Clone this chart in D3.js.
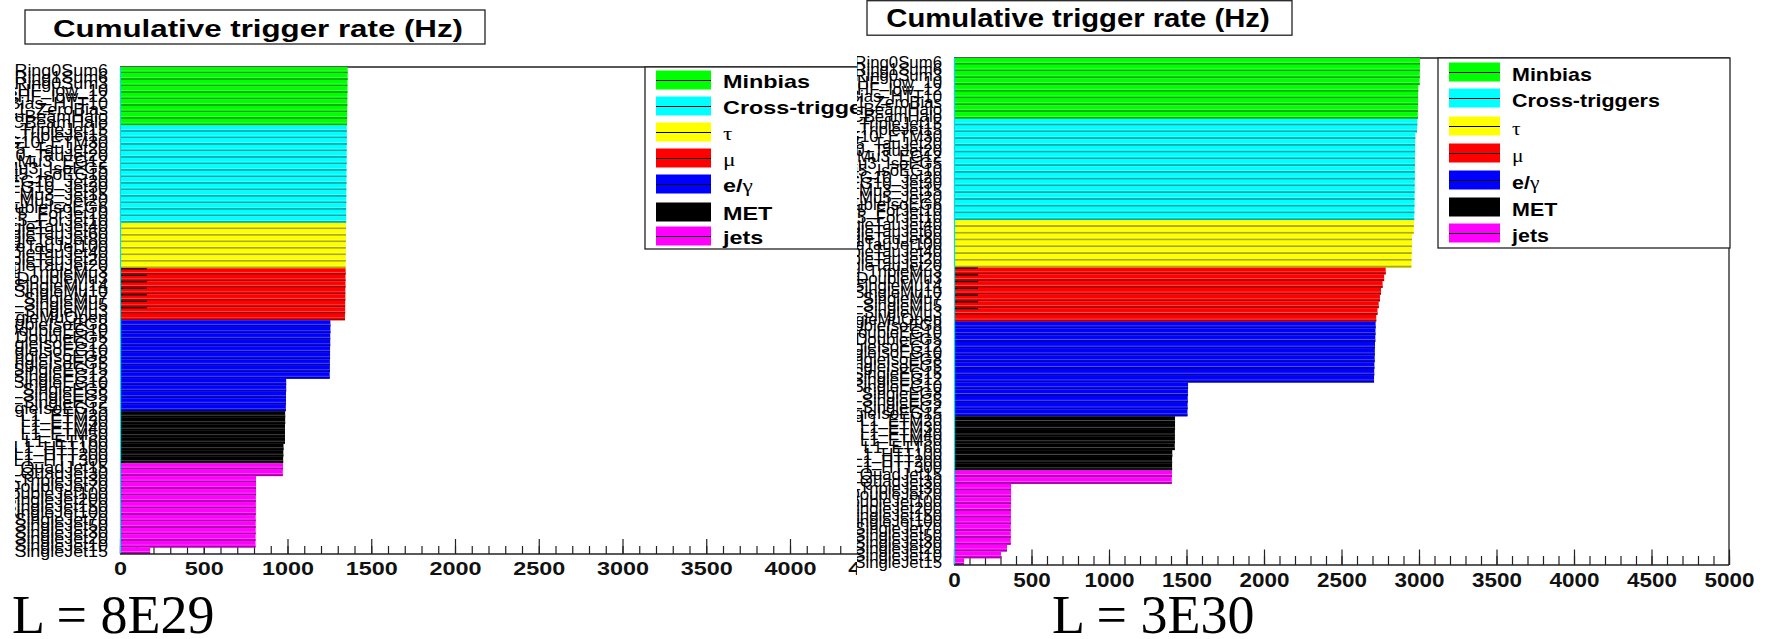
<!DOCTYPE html>
<html>
<head>
<meta charset="utf-8">
<script src="https://cdn.jsdelivr.net/npm/d3@7"></script>
<style>
  body { margin: 0; background: #fff; }
  svg { display: block; }
</style>
</head>
<body>
<svg id="chart" width="1774" height="639"></svg>
<script>
// trigger groups, listed top to bottom as they are stacked in the plot
var groupNames = ["Minbias", "Cross-triggers", "τ", "μ", "e/γ", "MET", "jets"];

var minbiasTriggers = ["L1_MinBias_Ring0Sum6", "L1_MinBias_Ring1Sum6", "L1_MinBias_Ring0Sum3", "L1_MinBiasHF_low_10",
  "L1_MinBiasHF_low_12", "L1_MinBias_HTT10", "L1_ZeroBias", "L1_SingleMuBeamHalo", "L1_CSCBeamHalo"];
var crossTriggers = ["L1_EG5_TripleJet15", "L1_Mu3_TripleJet15", "L1_IsoEG10_ETM30", "L1_Mu5_TauJet20", "L1_IsoEG10_TauJet20",
  "L1_Mu3_EG12", "L1_Mu3_IsoEG5", "L1_Mu5_IsoEG10", "L1_IsoEG10_Jet20", "L1_IsoEG10_Jet30", "L1_Mu3_Jet15",
  "L1_Mu5_Jet20", "L1_ExclusiveDoubleIsoEG6", "L1_IsoEG10_Jet15_ForJet10", "L1_Mu3_Jet15_ForJet10"];
var tauTriggers = ["L1_SingleTauJet40", "L1_SingleTauJet60", "L1_SingleTauJet80", "L1_SingleTauJet100",
  "L1_DoubleTauJet40", "L1_DoubleTauJet20", "L1_SingleTauJet20"];
var muTriggers = ["L1_TripleMu3", "L1_DoubleMu3", "L1_SingleMu14", "L1_SingleMu10", "L1_SingleMu7",
  "L1_SingleMu5", "L1_SingleMu3", "L1_SingleMuOpen"];
var egTriggers = ["L1_DoubleIsoEG8", "L1_DoubleEG10", "L1_DoubleEG5", "L1_SingleIsoEG12", "L1_SingleIsoEG10",
  "L1_SingleIsoEG8", "L1_SingleIsoEG5", "L1_SingleEG15", "L1_SingleEG12", "L1_SingleEG10", "L1_SingleEG8",
  "L1_SingleEG5", "L1_SingleEG2", "L1_SingleIsoEG15"];
var metTriggers = ["L1_ETM20", "L1_ETM30", "L1_ETM40", "L1_ETM50", "L1_ETT60", "L1_HTT100", "L1_HTT200", "L1_HTT300"];
var jetTriggers = ["L1_QuadJet15", "L1_QuadJet30", "L1_TripleJet30", "L1_DoubleJet70", "L1_DoubleJet100",
  "L1_SingleJet200", "L1_SingleJet150", "L1_SingleJet100", "L1_SingleJet70", "L1_SingleJet50",
  "L1_SingleJet30", "L1_SingleJet20", "L1_SingleJet10", "L1_SingleJet15"];

// cumulative rates (Hz), L = 8E29
var minbias8E29 = [1359, 1359, 1358, 1358, 1357, 1357, 1356, 1356, 1355];
var cross8E29 = [1354, 1354, 1354, 1353, 1353, 1353, 1352, 1352, 1352, 1351, 1351, 1351, 1350, 1350, 1350];
var tau8E29 = [1349, 1349, 1349, 1348, 1348, 1348, 1347];
var mu8E29 = [1347, 1346, 1346, 1345, 1345, 1344, 1344, 1343];
var eg8E29 = [1256, 1256, 1255, 1255, 1254, 1254, 1253, 1253, 1252, 992, 992, 991, 991, 990];
var met8E29 = [986, 986, 985, 985, 985, 976, 975, 974];
var jet8E29 = [973, 972, 812, 812, 812, 811, 811, 811, 810, 810, 810, 809, 809, 180];
var muLine8E29 = [160, 160, 160, 160, 160, 160, 160];

// cumulative rates (Hz), L = 3E30
var minbias3E30 = [3006, 3006, 3005, 3004, 2995, 2994, 2994, 2993, 2992];
var cross3E30 = [2989, 2987, 2976, 2975, 2975, 2974, 2974, 2973, 2973, 2972, 2972, 2971, 2971, 2970, 2969];
var tau3E30 = [2967, 2966, 2955, 2954, 2953, 2952, 2951];
var mu3E30 = [2785, 2775, 2765, 2755, 2748, 2740, 2732, 2724];
var eg3E30 = [2720, 2719, 2718, 2716, 2715, 2714, 2712, 2711, 2710, 1510, 1509, 1508, 1507, 1506];
var met3E30 = [1426, 1426, 1425, 1425, 1424, 1408, 1407, 1407];
var jet3E30 = [1406, 1405, 368, 368, 368, 367, 367, 367, 366, 366, 366, 342, 303, 65];
var muLine3E30 = [155, 155, 155, 155, 155, 155, 155];

var xTickValues = [0, 500, 1000, 1500, 2000, 2500, 3000, 3500, 4000, 4500, 5000];
var xMinorStep = 100;

var groupColors = ["#00ff00", "#00ffff", "#ffff00", "#ff0000", "#0000ff", "#000000", "#ff00ff"];
var triggerLists = [minbiasTriggers, crossTriggers, tauTriggers, muTriggers, egTriggers, metTriggers, jetTriggers];

var SANS = "'Liberation Sans', Arial, Helvetica, sans-serif";
var SERIF = "'Liberation Serif', 'Times New Roman', serif";

var svg = d3.select("#chart");

function stretched(sel, x, y, sx) {
    return sel.attr("transform", "translate(" + x + "," + y + ") scale(" + sx + ",1)");
}

// greek letters are drawn in plain weight, the rest bold (like the ROOT legend)
function legendText(sel, str) {
    var runs = str.match(/[\u0370-\u03ff]+|[^\u0370-\u03ff]+/g);
    runs.forEach(function (r) {
        var greek = /[\u0370-\u03ff]/.test(r);
        sel.append("tspan").text(r)
            .style("font-weight", greek ? "normal" : "bold")
            .style("font-family", greek ? SERIF : SANS);
    });
}

function drawPanel(cfg, rates, muLine) {
    var rows = [];
    triggerLists.forEach(function (list, gi) {
        list.forEach(function (name, i) {
            rows.push({name: name, group: gi, value: rates[gi][i]});
        });
    });

    var x = d3.scaleLinear().domain([0, 5000]).range([cfg.x0, cfg.x1]);
    var y = d3.scaleBand().domain(rows.map(function (d) { return d.name; })).range([cfg.top, cfg.bottom]);
    var bh = y.bandwidth();

    var g = svg.append("g");

    // frame (under the bars)
    g.append("path")
        .attr("d", "M" + cfg.x0 + "," + cfg.top + "H" + cfg.x1 + "V" + cfg.bottom)
        .attr("fill", "none").attr("stroke", "#222").attr("stroke-width", 1.3);

    // ticks point up into the frame
    var minor = g.append("g").attr("transform", "translate(0," + cfg.bottom + ")")
        .call(d3.axisBottom(x).tickValues(d3.range(0, 5001, xMinorStep)).tickSize(-cfg.minorTick).tickFormat(""));
    minor.select(".domain").remove();
    var major = g.append("g").attr("transform", "translate(0," + cfg.bottom + ")")
        .call(d3.axisBottom(x).tickValues(xTickValues).tickSize(-cfg.majorTick).tickFormat(d3.format("d")));
    major.select(".domain").remove();
    g.selectAll(".tick line").attr("stroke", "#222").attr("stroke-width", 1.2);
    major.selectAll("text")
        .attr("y", 0).attr("dy", null)
        .attr("transform", "translate(0," + cfg.tickBase + ") scale(" + cfg.tickSx + ",1)")
        .attr("fill", "#111")
        .style("font-family", SANS).style("font-weight", "bold").style("font-size", cfg.tickFont + "px");

    // bars with ROOT-like shading stripes
    var bars = g.append("g").selectAll("g").data(rows).join("g")
        .attr("transform", function (d) { return "translate(0," + y(d.name) + ")"; });
    bars.append("rect")
        .attr("x", x(0)).attr("y", 0)
        .attr("width", function (d) { return x(d.value) - x(0); })
        .attr("height", bh)
        .attr("fill", function (d) { return groupColors[d.group]; });
    bars.append("rect")
        .attr("x", x(0)).attr("y", bh * 0.56)
        .attr("width", function (d) { return x(d.value) - x(0); })
        .attr("height", bh * 0.16)
        .attr("fill", function (d) { return d3.interpolateRgb(groupColors[d.group], "#fff")(0.3); });
    bars.append("rect")
        .attr("x", x(0)).attr("y", bh * 0.72)
        .attr("width", function (d) { return x(d.value) - x(0); })
        .attr("height", bh * 0.28)
        .attr("fill", function (d) { return d3.color(groupColors[d.group]).darker(1.1); });

    // thin black lines at the low end of the muon bars
    var muRows = rows.filter(function (d) { return d.group === 3; });
    g.append("g").selectAll("line").data(muLine).join("line")
        .attr("x1", x(0)).attr("x2", function (v) { return x(v); })
        .attr("y1", function (v, i) { return y(muRows[i].name) + 0.5; })
        .attr("y2", function (v, i) { return y(muRows[i].name) + 0.5; })
        .attr("stroke", "#000").attr("stroke-width", 1.2);

    // cyan edge along zero
    g.append("line")
        .attr("x1", x(0) + 0.5).attr("x2", x(0) + 0.5)
        .attr("y1", cfg.top).attr("y2", cfg.bottom)
        .attr("stroke", "#00e0e0").attr("stroke-width", 1.2);

    // x axis line
    g.append("line")
        .attr("x1", cfg.x0).attr("x2", cfg.x1)
        .attr("y1", cfg.bottom).attr("y2", cfg.bottom)
        .attr("stroke", "#222").attr("stroke-width", 1.5);

    // trigger names (crowded, clipped on the left like the original)
    var clipId = "clip" + cfg.id;
    svg.append("clipPath").attr("id", clipId)
        .append("rect").attr("x", cfg.labelClip).attr("y", 0).attr("width", cfg.labelRight + 10 - cfg.labelClip).attr("height", 639);
    var lab = g.append("g").attr("clip-path", "url(#" + clipId + ")");
    lab.selectAll("text").data(rows).join("text")
        .attr("transform", function (d) {
            return "translate(" + cfg.labelRight + "," + (y(d.name) + bh + cfg.labelDrop) + ") scale(" + cfg.labelSx + ",1)";
        })
        .attr("text-anchor", "end")
        .attr("fill", "#000")
        .style("font-family", SANS).style("font-size", cfg.labelFont + "px")
        .text(function (d) { return d.name; });

    // legend
    var L = cfg.legend;
    var leg = g.append("g");
    leg.append("rect")
        .attr("x", L.x).attr("y", L.y).attr("width", L.w).attr("height", L.h)
        .attr("fill", "#fff").attr("stroke", "#222").attr("stroke-width", 1.3);
    var items = leg.selectAll("g.item").data(groupNames).join("g").attr("class", "item")
        .attr("transform", function (d, i) { return "translate(0," + L.rowY[i] + ")"; });
    items.append("rect")
        .attr("x", L.swX).attr("y", -L.swH / 2).attr("width", L.swW).attr("height", L.swH)
        .attr("fill", function (d, i) { return groupColors[i]; });
    items.append("line")
        .attr("x1", L.swX).attr("x2", L.swX + L.swW).attr("y1", 0.5).attr("y2", 0.5)
        .attr("stroke", "#000").attr("stroke-width", 1.2);
    items.append("text")
        .attr("transform", "translate(" + L.textX + "," + L.textDrop + ") scale(" + L.sx + ",1)")
        .attr("fill", "#000")
        .style("font-size", L.font + "px")
        .each(function (d) { legendText(d3.select(this), d); });

    // title box
    var T = cfg.title;
    g.append("rect")
        .attr("x", T.bx).attr("y", T.by).attr("width", T.bw).attr("height", T.bh)
        .attr("fill", "#fff").attr("stroke", "#222").attr("stroke-width", 1.3);
    stretched(g.append("text"), T.cx, T.base, T.sx)
        .attr("text-anchor", "middle").attr("fill", "#000")
        .style("font-family", SANS).style("font-weight", "bold").style("font-size", T.font + "px")
        .text("Cumulative trigger rate (Hz)");

    // luminosity
    g.append("text")
        .attr("x", cfg.lumi.x).attr("y", cfg.lumi.base)
        .attr("fill", "#000")
        .style("font-family", SERIF).style("font-size", "54px")
        .text(cfg.lumi.text);
}

drawPanel({
    id: "A", x0: 120, x1: 957.5, top: 67, bottom: 554,
    labelRight: 108, labelClip: 15, labelFont: 16, labelSx: 1.12, labelDrop: 3,
    tickFont: 18, tickSx: 1.3, tickBase: 21, majorTick: 15, minorTick: 8,
    legend: {x: 645, y: 67, w: 315, h: 182, swX: 656, swW: 55, swH: 19, textX: 723, textDrop: 8,
        rowY: [80, 106, 132, 158, 184, 212, 236], font: 18, sx: 1.3},
    title: {bx: 25, by: 10, bw: 460, bh: 34, cx: 258, base: 37, font: 23, sx: 1.36},
    lumi: {x: 12, base: 633, text: "L = 8E29"}
}, [minbias8E29, cross8E29, tau8E29, mu8E29, eg8E29, met8E29, jet8E29], muLine8E29);

// the second picture sits on top of the first one
svg.append("rect").attr("x", 857).attr("y", 0).attr("width", 1774 - 857).attr("height", 639).attr("fill", "#fff");

drawPanel({
    id: "B", x0: 954, x1: 1729, top: 58, bottom: 565,
    labelRight: 942, labelClip: 857, labelFont: 16, labelSx: 1.05, labelDrop: 3,
    tickFont: 21, tickSx: 1.07, tickBase: 22, majorTick: 15.5, minorTick: 9,
    legend: {x: 1438, y: 58, w: 292, h: 190, swX: 1449, swW: 51, swH: 19, textX: 1512, textDrop: 9,
        rowY: [72, 98, 126, 153, 180, 207, 233], font: 19, sx: 1.13},
    title: {bx: 867, by: 0.7, bw: 425, bh: 34.5, cx: 1078, base: 27, font: 25, sx: 1.17},
    lumi: {x: 1052, base: 633, text: "L = 3E30"}
}, [minbias3E30, cross3E30, tau3E30, mu3E30, eg3E30, met3E30, jet3E30], muLine3E30);
</script>
</body>
</html>
